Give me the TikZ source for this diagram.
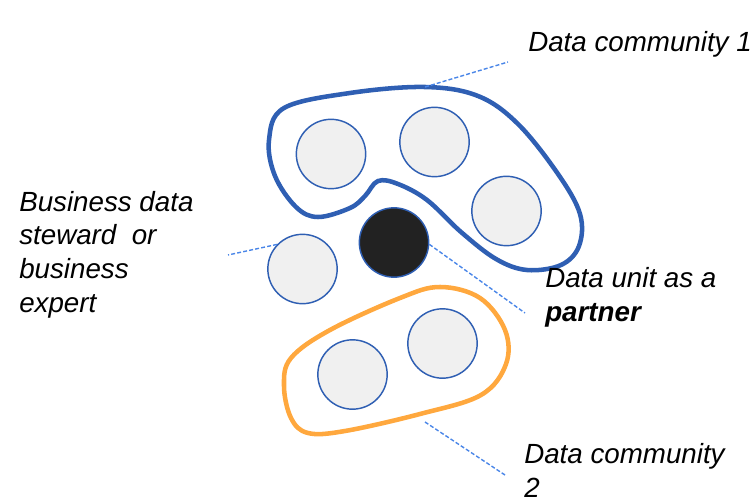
\documentclass[tikz,border=0pt]{standalone}
\usepackage{fontspec}
\setmainfont{Liberation Sans}
\definecolor{cblue}{HTML}{2F5FB3}
\definecolor{corange}{HTML}{FFA83E}
\definecolor{cdash}{HTML}{4A86E8}
\definecolor{cfill}{HTML}{F0F0F0}
\definecolor{cdark}{HTML}{222222}
\begin{document}
\begin{tikzpicture}[x=0.75pt,y=-0.75pt,
  member/.style={circle,draw=cblue,fill=cfill,line width=1.1pt,minimum size=52pt,inner sep=0pt},
  partnerunit/.style={member,fill=cdark},
  comm/.style={line width=3.4pt,line join=round},
  leader/.style={draw=cdash,line width=1.05pt,dash pattern=on 3pt off 1.6pt},
  lbl/.style={font=\fontsize{20.8}{25.2}\selectfont\itshape,align=left,inner sep=0pt,anchor=base west}]
\path (0,0) rectangle (756,502);
% community 1 outline
\draw[comm,draw=cblue] plot[smooth cycle,tension=0.6] coordinates {
 (269,140) (284,108) (350,93) (425,87) (478,96) (518,124) (558,174) (580,214)
 (579,246) (561,265) (527,270) (496,259) (461,232) (427,200) (398,184) (378,181)
 (365,196) (350,208) (318,217) (296,207) (275,176)};
% community 2 outline
\draw[comm,draw=corange] plot[smooth cycle,tension=0.6] coordinates {
 (291,358) (330,330) (400,298) (440,287) (480,298) (505,330) (506,364) (481,395)
 (420,414) (345,431) (308,433) (291,418) (284,386)};
% members
\node[member] (c1) at (331,154) {};
\node[member] (c2) at (434.5,142) {};
\node[member] (c3) at (506.5,211) {};
\node[member] (lc) at (302.5,269) {};
\node[partnerunit] (du) at (394,242.5) {};
\node[member] (c4) at (352.5,374.5) {};
\node[member] (c5) at (442.5,343.5) {};
% labels (anchor = baseline of last line)
\node[lbl] (t1) at (528,52) {Data community 1};
\node[lbl] (t2) at (19,312) {Business data\\steward\ \ or\\business\\expert};
\node[lbl] (t3) at (545,321) {Data unit as a\\\textbf{partner}};
\node[lbl] (t4) at (524,497) {Data community\\2};
% leader lines
\coordinate (o1) at (425,87);
\coordinate (e1) at (508,62);
\coordinate (e2) at (228,255);
\coordinate (e3) at (525,313);
\coordinate (o2) at (425,422);
\coordinate (e4) at (505,475);
\draw[leader] (o1) -- (e1);
\draw[leader] (lc.136) -- (e2);
\draw[leader] (du.-3) -- (e3);
\draw[leader] (o2) -- (e4);
\end{tikzpicture}
\end{document}
